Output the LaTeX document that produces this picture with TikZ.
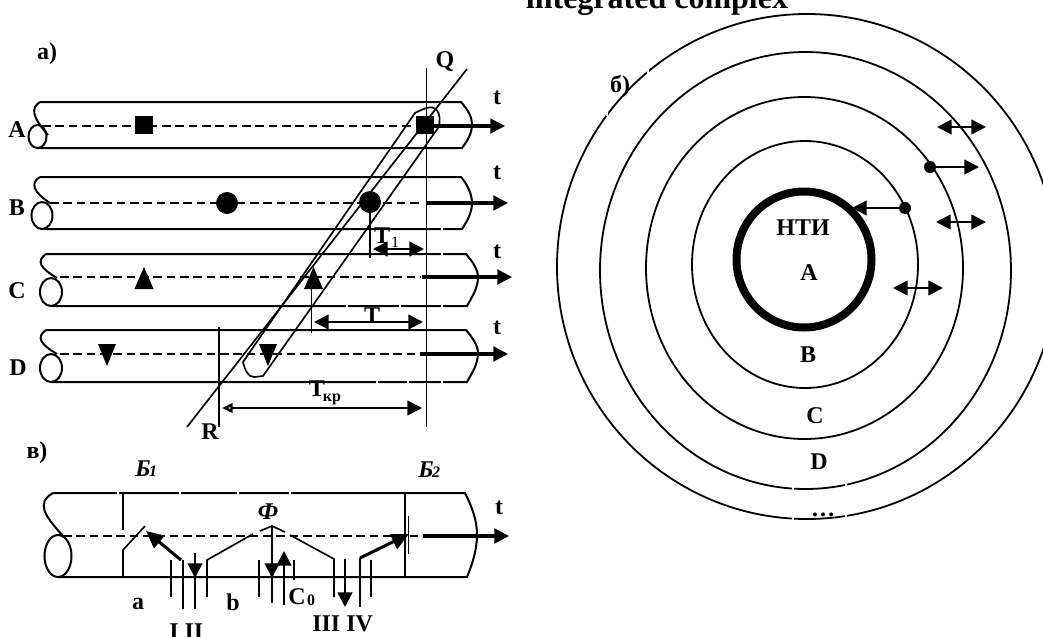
\documentclass[tikz,border=0pt]{standalone}
\usepackage{fontspec}
\setmainfont{Liberation Serif}
\usetikzlibrary{arrows.meta}
\tikzset{
  thinline/.style={line width=1.25pt,black},
  pipeline/.style={line width=1.5pt,black},
  axisdash/.style={line width=1.4pt,black,dash pattern=on 6.5pt off 3.5pt},
  timearrow/.style={line width=2.3pt,black,-{Triangle[length=11pt,width=11pt]}},
  headr/.style={line width=1.5pt,black,-{Triangle[length=11pt,width=11pt]}},
  headboth/.style={line width=1.7pt,black,{Triangle[length=11pt,width=11pt]}-{Triangle[length=11pt,width=11pt]}},
  thickhead/.style={line width=2.3pt,black,-{Triangle[length=13pt,width=12pt]}},
  ring/.style={line width=1.35pt,black},
  gapmark/.style={line width=1.5pt,white},
  lab/.style={font=\fontsize{18}{20}\selectfont\bfseries,inner sep=0pt,text=black},
  itlab/.style={font=\fontsize{18}{20}\selectfont\bfseries\itshape,inner sep=0pt,text=black},
  sublab/.style={font=\fontsize{12}{14}\selectfont\bfseries,inner sep=0pt,text=black},
  dot/.style={circle,fill=black,inner sep=0pt},
  sq/.style={rectangle,fill=black,inner sep=0pt,minimum size=13.5pt},
}
\begin{document}
\begin{tikzpicture}[x=0.75pt,y=-0.75pt]
\useasboundingbox (0,0) rectangle (1043,636);
\clip (0,0) rectangle (1043,636);

% --- pipe A
\draw[pipeline] (40,102) -- (461,102) .. controls (468,110) and (472,117) .. (472,124) .. controls (472,133) and (468,140) .. (462,148) -- (38,148);
\draw[pipeline] (40,102) .. controls (30,108) and (33,118) .. (48,135);
\draw[pipeline] (37.5,136.5) ellipse [x radius=9,y radius=11.5];
\draw[axisdash] (42,126) -- (412,126);
% --- pipe B
\draw[pipeline] (40,177) -- (461,177) .. controls (468,185) and (472,195) .. (472,203) .. controls (472,212) and (468,220) .. (462,229) -- (44,229);
\draw[pipeline] (40,177) .. controls (30,183) and (33,192) .. (50,203);
\draw[pipeline] (42,215.5) ellipse [x radius=10.5,y radius=13.5];
\draw[axisdash] (50,203) -- (421,203);
% --- pipe C
\draw[pipeline] (46,254) -- (466,254) .. controls (473,262) and (478,270) .. (478,277) .. controls (478,288) and (472,297) .. (467,306) -- (52,306);
\draw[pipeline] (46,254) .. controls (36,261) and (40,268) .. (57,278);
\draw[pipeline] (51,292) ellipse [x radius=11,y radius=14];
\draw[axisdash] (60,277) -- (421,277);
% --- pipe D
\draw[pipeline] (46,330) -- (466,330) .. controls (473,338) and (478,346) .. (478,353) .. controls (478,364) and (472,373) .. (467,382) -- (52,382);
\draw[pipeline] (46,330) .. controls (36,337) and (40,344) .. (57,354);
\draw[pipeline] (51,368) ellipse [x radius=11,y radius=14];
\draw[axisdash] (60,354) -- (421,354);

% --- time arrows
\coordinate (tA0) at (430,126); \coordinate (tA1) at (505,126);
\coordinate (tB0) at (426,203); \coordinate (tB1) at (508,203);
\coordinate (tC0) at (422,277); \coordinate (tC1) at (512,277);
\coordinate (tD0) at (420,354); \coordinate (tD1) at (508,354);
\draw[timearrow] (tA0) -- (tA1);
\draw[timearrow] (tB0) -- (tB1);
\draw[timearrow] (tC0) -- (tC1);
\draw[timearrow] (tD0) -- (tD1);

% --- markers
\node[sq] (sA1) at (144,125) {};
\node[sq] (sA2) at (425,125) {};
\node[dot,minimum size=16.5pt] (cB1) at (227,203) {};
\node[dot,minimum size=16.5pt] (cB2) at (370,202) {};
\fill (144,267) -- (153.5,289) -- (134.5,289) -- cycle;
\fill (313.5,267) -- (323,289) -- (304,289) -- cycle;
\fill (107,366) -- (98,344) -- (116,344) -- cycle;
\fill (268,366) -- (259,344) -- (277,344) -- cycle;

% --- construction lines
\coordinate (Qtop) at (426.5,68); \coordinate (Qbot) at (426.5,427);
\coordinate (Rtop) at (219,327);  \coordinate (Rbot) at (219,427);
\coordinate (Dtop) at (467,69);   \coordinate (Dbot) at (187,427);
\draw[thinline] (Qtop) -- (Qbot);
\draw[thinline] (Rtop) -- (Rbot);
\draw[thinline] (Dtop) -- (Dbot);
\draw[thinline] (438,128) .. controls (441,122) and (440,113) .. (436,109) .. controls (431,105) and (423,109) .. (415,113) -- (243,362) .. controls (245,370) and (248,377) .. (254,377) -- (263,376) -- cycle;
\draw[thinline] (cB2.south) -- (370,258);
\draw[thinline] (311.5,289) -- (311.5,333);

% --- dimension arrows
\coordinate (T1a) at (373,249); \coordinate (T1b) at (424,249);
\coordinate (Ta) at (314,322);  \coordinate (Tb) at (423,322);
\coordinate (Ka) at (222,408);  \coordinate (Kb) at (422,408);
\draw[headboth] (T1a) -- (T1b);
\draw[headboth] (Ta) -- (Tb);
\draw[line width=1.8pt,{Triangle[open,length=8pt,width=7pt]}-{Triangle[length=11pt,width=11pt]}] (Ka) -- (Kb);

% --- panel v
\draw[pipeline] (53,493) -- (465,493) .. controls (472,507) and (477,520) .. (477,535) .. controls (477,550) and (472,565) .. (467,577) -- (58,577);
\draw[pipeline] (53,493) .. controls (36,503) and (44,515) .. (63,536);
\draw[pipeline] (58,556) ellipse [x radius=13.5,y radius=21];
\draw[axisdash] (63,536) -- (420,536);
\coordinate (t3a) at (423,536); \coordinate (t3b) at (509,536);
\draw[timearrow] (t3a) -- (t3b);
\draw[thinline] (123,493) -- (123,530);
\draw[thinline] (123,577) -- (123,550) -- (145,526);
\draw[thinline] (405,493) -- (405,577);
\draw[thinline] (408.5,516) -- (408.5,554);
\coordinate (a1a) at (181,560); \coordinate (a1b) at (146,531);
\draw[thickhead] (a1a) -- (a1b);
\draw[thinline] (171,560) -- (171,597);
\draw[thinline] (183,560) -- (183,609);
\draw[thinline] (207,597) -- (207,560) -- (253,534);
\draw[thinline] (260,531) -- (272,526) -- (285,532);
\draw[thinline] (290,535) -- (334,559) -- (334,597);
\draw[thinline] (259,560) -- (259,597);
\draw[thinline] (294,560) -- (294,580);
\draw[thinline] (371,560) -- (371,597);
\coordinate (b1a) at (195,553); \coordinate (b1b) at (195,578);
\draw[headr] (b1a) -- (b1b);
\draw[thinline] (195,578) -- (195,609);
\coordinate (b2a) at (272,526); \coordinate (b2b) at (272,578);
\draw[headr] (b2a) -- (b2b);
\draw[thinline] (272,578) -- (272,603);
\coordinate (b3a) at (284,605); \coordinate (b3b) at (284,551);
\draw[line width=1.8pt,-{Triangle[length=11pt,width=11pt]}] (b3a) -- (b3b);
\coordinate (b4a) at (345,559); \coordinate (b4b) at (345,607);
\draw[line width=1.8pt,-{Triangle[length=11pt,width=11pt]}] (b4a) -- (b4b);
\draw[thinline] (360,558) -- (360,607);
\coordinate (a2a) at (360,558); \coordinate (a2b) at (409,534);
\draw[thickhead] (a2a) -- (a2b);

% --- rings
\draw[ring] (807,266.5) ellipse [x radius=250,y radius=252.5];
\draw[ring] (805.5,270.5) ellipse [x radius=205.5,y radius=218.5];
\draw[ring] (804.5,268) ellipse [x radius=158.5,y radius=171];
\draw[ring] (805,264.5) ellipse [x radius=113,y radius=123.5];
\draw[line width=6pt,black] (804,259.5) ellipse [x radius=67.5,y radius=68];
\coordinate (d1a) at (937,127); \coordinate (d1b) at (986,127);
\coordinate (d2a) at (936,222); \coordinate (d2b) at (986,222);
\coordinate (d3a) at (893,288); \coordinate (d3b) at (943,288);
\draw[headboth] (d1a) -- (d1b);
\draw[headboth] (d2a) -- (d2b);
\draw[headboth] (d3a) -- (d3b);
\node[dot,minimum size=9pt] (p1) at (930,167) {};
\node[dot,minimum size=9pt] (p2) at (905,208) {};
\coordinate (p1e) at (979,167);
\coordinate (p2e) at (852,208);
\draw[headr] (p1) -- (p1e);
\draw[headr] (p2) -- (p2e);

% --- small breaks in the lines
\foreach \x/\y in {607/113, 648/71, 793/489, 846/485, 793/519, 846/517}
  \draw[gapmark] (\x,\y-2.5) -- (\x,\y+2.5);
\foreach \x/\y in {118/493,180/493,238/493,290/493,442/229,442/254,442/306,442/382,347/306,400/306,377/382,408/382}
  \draw[gapmark] (\x,\y-2) -- (\x,\y+2);

% --- labels
\node[lab,font=\fontsize{24}{26}\selectfont\bfseries,anchor=base] (title) at (657,8) {integrated complex};
\node[lab] (la) at (47,54) {а)};
\node[lab] (lQ) at (445,61) {Q};
\node[lab] (ltA) at (497,98) {t};
\node[lab] (ltB) at (497,173) {t};
\node[lab] (ltC) at (497,252) {t};
\node[lab] (ltD) at (497,328) {t};
\node[lab] (lA) at (17,130) {A};
\node[lab] (lB) at (17,208) {B};
\node[lab] (lC) at (17,291) {C};
\node[lab] (lD) at (18,368) {D};
\node[lab,anchor=base] (lT1) at (382,243) {T};
\node[font=\fontsize{12}{14}\selectfont,inner sep=0pt,anchor=base] (lT1s) at (395,247) {1};
\node[lab,anchor=base] (lT) at (372,323) {T};
\node[lab,anchor=base] (lTk) at (317,396) {T};
\node[sublab,anchor=base] (lTks) at (332,401) {кр};
\node[lab] (lR) at (210,432) {R};
\node[lab] (lv) at (37,453) {в)};
\node[itlab] (lB1) at (143,469) {Б};
\node[sublab,font=\fontsize{12}{14}\selectfont\bfseries\itshape,anchor=base] (lB1s) at (153,476) {1};
\node[itlab] (lB2) at (426,470) {Б};
\node[sublab,font=\fontsize{12}{14}\selectfont\bfseries\itshape,anchor=base] (lB2s) at (436,477) {2};
\node[itlab] (lF) at (268,512) {Ф};
\node[lab] (lt3) at (499,508) {t};
\node[lab] (lsa) at (138,604) {a};
\node[lab] (lsb) at (233,602) {b};
\node[lab,anchor=base] (lC0) at (297,604) {C};
\node[sublab,anchor=base] (lC0s) at (311,605) {0};
\node[lab,anchor=base west] (l12) at (169,639) {I II};
\node[lab,anchor=base west] (l34) at (312,631) {III IV};
\node[lab] (lb) at (620,86) {б)};
\node[lab] (lN) at (803,228) {НТИ};
\node[lab] (rA) at (809,273) {A};
\node[lab] (rB) at (808,355) {B};
\node[lab] (rC) at (815,416) {C};
\node[lab] (rD) at (819,462) {D};
\node[lab,anchor=base] (rdots) at (823,516) {…};
\end{tikzpicture}
\end{document}
